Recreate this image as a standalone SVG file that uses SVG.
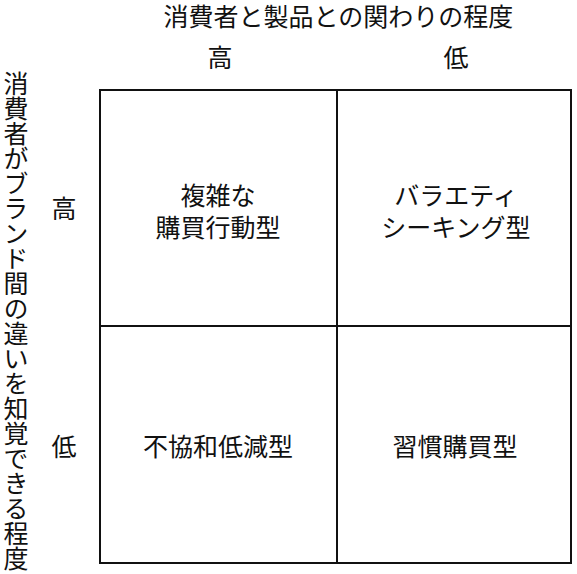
<svg xmlns="http://www.w3.org/2000/svg" width="577" height="574" viewBox="0 0 577 574">
<style>
  text { font-family: "Noto Sans CJK JP", "Noto Sans", sans-serif; font-size: 25px; fill: #111; }
  .c { text-anchor: middle; }
  .grid { fill: none; stroke: #111; stroke-width: 2; }
</style>
<rect width="577" height="574" fill="#fff"/>
<g id="axis-labels">
  <text id="x-title" class="c" x="338.5" y="26">消費者と製品との関わりの程度</text>
  <text id="col-high" class="c" x="220" y="67">高</text>
  <text id="col-low" class="c" x="456" y="67">低</text>
  <text id="y-title" x="16" y="71" style="writing-mode: vertical-rl;">消費者がブランド間の違いを知覚できる程度</text>
  <text id="row-high" class="c" x="64" y="218">高</text>
  <text id="row-low" class="c" x="64" y="456">低</text>
</g>
<g id="connectors">
  <rect class="grid" x="100" y="90" width="471" height="473"/>
  <line class="grid" x1="337" y1="90" x2="337" y2="563"/>
  <line class="grid" x1="100" y1="326" x2="571" y2="326"/>
</g>
<g id="cell-complex">
  <text class="c" x="218" y="205">複雑な</text>
  <text class="c" x="218" y="237">購買行動型</text>
</g>
<g id="cell-variety">
  <text class="c" x="456" y="205">バラエティ</text>
  <text class="c" x="456" y="237">シーキング型</text>
</g>
<g id="cell-dissonance">
  <text class="c" x="218" y="456">不協和低減型</text>
</g>
<g id="cell-habitual">
  <text class="c" x="455" y="456">習慣購買型</text>
</g>
</svg>
